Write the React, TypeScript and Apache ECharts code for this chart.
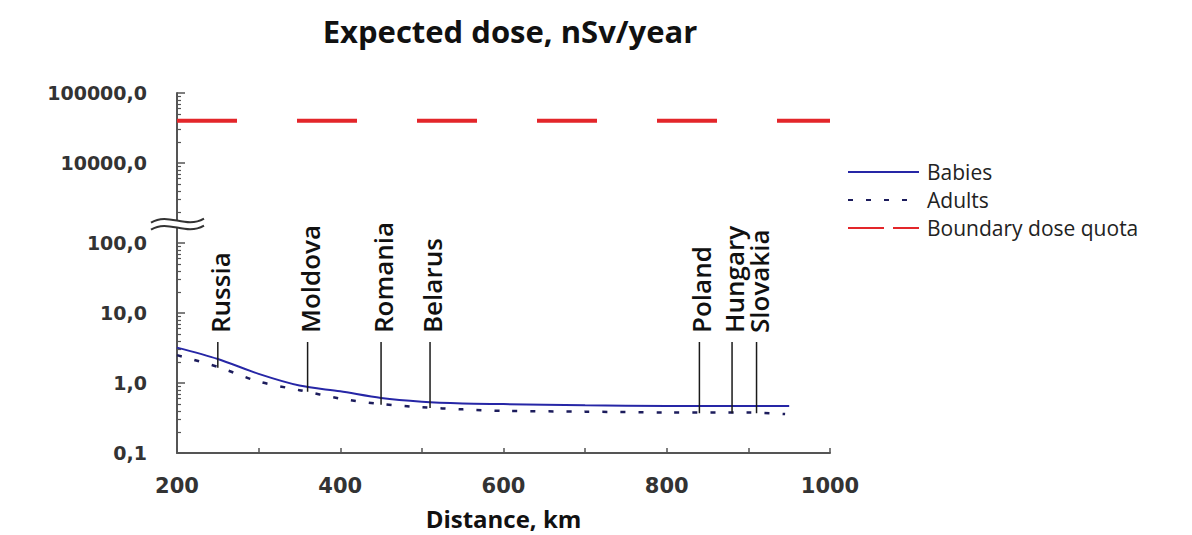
import React, { useEffect, useRef } from "react";
import * as echarts from "echarts";

// ---- data ----
const babyDistances = [200, 250, 300, 350, 400, 450, 500, 550, 600, 700, 800, 900, 950];
const babies = [3.2, 2.2, 1.35, 0.92, 0.76, 0.61, 0.54, 0.51, 0.5, 0.48, 0.47, 0.47, 0.47];
const adultDistances = [200, 250, 300, 350, 400, 450, 500, 550, 600, 700, 800, 900, 945];
const adults = [2.5, 1.7, 1.05, 0.79, 0.6, 0.5, 0.45, 0.42, 0.4, 0.39, 0.38, 0.38, 0.36];
const boundaryDistances = [200, 1000];
const boundary = [40000, 40000];
const countries = ["Russia", "Moldova", "Romania", "Belarus", "Poland", "Hungary", "Slovakia"];
const countryKm = [250, 360, 450, 510, 840, 880, 910];
const countryDose = [1.65, 0.75, 0.49, 0.44, 0.37, 0.37, 0.37];
const yTickValues = [0.1, 1, 10, 100, 10000, 100000];
const yTickLabels = ["0,1", "1,0", "10,0", "100,0", "10000,0", "100000,0"];
const xLabelValues = [200, 400, 600, 800, 1000];

// ---- broken log scale ----
const GAP = 8 / 7; // visual gap (in decades) between 100 and 10000
const SHIFT = 4 - (2 + GAP);
const toT = (v: number) => (v < 1000 ? Math.log10(v) : Math.log10(v) - SHIFT);
const BREAK_T = 2.27;
const LABEL_LINE_TOP = 3.85; // dose level where the country marker lines end

const minorValues: number[] = [];
for (const dec of [0.1, 1, 10, 1000, 10000]) {
  for (let k = 2; k <= 9; k++) minorValues.push(toT(dec * k));
}

export default function App() {
  const ref = useRef<HTMLDivElement>(null);
  useEffect(() => {
    if (!ref.current) return;
    const chart = echarts.init(ref.current, undefined, { renderer: "svg" });
    const majorT = yTickValues.map(toT);
    const labelFont = { fontFamily: "DejaVu Sans", fontWeight: "bold" as const, color: "#333" };
    chart.setOption({
      animation: false,
      backgroundColor: "#fff",
      title: {
        text: "Expected dose, nSv/year",
        left: 505,
        top: 10,
        textAlign: "center",
        textStyle: { fontFamily: "Open Sans", fontWeight: "bold", fontSize: 31, color: "#111" },
      },
      legend: {
        orient: "vertical",
        left: 842,
        top: 156,
        itemWidth: 71,
        itemHeight: 14,
        itemGap: 6,
        itemStyle: { opacity: 0 },
        data: [
          { name: "Babies", itemStyle: { opacity: 0 } },
          { name: "Adults", itemStyle: { opacity: 0 } },
          { name: "Boundary dose quota", itemStyle: { opacity: 0 }, lineStyle: { type: [36, 9] } },
        ],
        textStyle: { fontFamily: "Open Sans", fontSize: 21, color: "#222", lineHeight: 22, padding: [0, 0, 0, 3] },
      },
      grid: { left: 177, right: 362, top: 93, bottom: 82, containLabel: false, outerBoundsMode: "none" },
      xAxis: {
        type: "value",
        min: 200,
        max: 1000,
        interval: 100,
        axisLine: { onZero: false, lineStyle: { color: "#555", width: 2 } },
        axisTick: { inside: true, length: 5, lineStyle: { color: "#555", width: 1.5 } },
        axisLabel: {
          ...labelFont,
          fontSize: 21,
          margin: 22,
          showMinLabel: true,
          showMaxLabel: true,
          formatter: (v: number) => (xLabelValues.includes(v) ? String(v) : ""),
        },
        splitLine: { show: false },
        name: "Distance, km",
        nameLocation: "middle",
        nameGap: 53,
        nameTextStyle: { fontFamily: "Open Sans", fontWeight: "bold", fontSize: 24, color: "#111" },
      },
      yAxis: [
        {
          type: "value",
          position: "left",
          min: toT(0.1),
          max: toT(100000),
          axisLine: { show: true, onZero: false, lineStyle: { color: "#555", width: 2 } },
          axisTick: { show: true, inside: true, length: 8, customValues: majorT, lineStyle: { color: "#555", width: 1.5 } },
          axisLabel: {
            ...labelFont,
            fontSize: 19,
            margin: 30,
            customValues: majorT,
            formatter: (v: number) => {
              const i = majorT.findIndex((t) => Math.abs(t - v) < 1e-6);
              return i >= 0 ? yTickLabels[i] : "";
            },
          },
          splitLine: { show: false },
        },
        {
          type: "value",
          position: "left",
          offset: 0,
          min: toT(0.1),
          max: toT(100000),
          axisLine: { show: false, onZero: false },
          axisTick: { show: true, inside: true, length: 4, customValues: minorValues, lineStyle: { color: "#555", width: 1.2 } },
          axisLabel: { show: false },
          splitLine: { show: false },
        },
      ],
      series: [
        {
          name: "Babies",
          type: "line",
          symbol: "none",
          smooth: 0.3,
          data: babyDistances.map((d, i) => [d, toT(babies[i])]),
          lineStyle: { color: "#2626a6", width: 2 },
          itemStyle: { color: "#2626a6" },
          z: 3,
        },
        {
          name: "Adults",
          type: "line",
          symbol: "none",
          smooth: 0.3,
          data: adultDistances.map((d, i) => [d, toT(adults[i])]),
          lineStyle: { color: "#1c1c5c", width: 2.5, type: [5, 13] },
          itemStyle: { color: "#1c1c5c" },
          z: 3,
        },
        {
          name: "Boundary dose quota",
          type: "line",
          symbol: "none",
          data: boundaryDistances.map((d, i) => [d, toT(boundary[i])]),
          lineStyle: { color: "#e3262a", width: 4, type: [60, 60] },
          itemStyle: { color: "#e3262a" },
        },
        {
          name: "countries",
          type: "custom",
          silent: true,
          clip: false,
          z: 4,
          encode: { x: 0, y: 1 },
          data: countryKm.map((k, i) => [k, toT(countryDose[i]), i]),
          renderItem: (params: any, api: any) => {
            const bottom = api.coord([api.value(0), api.value(1)]);
            const top = api.coord([api.value(0), toT(LABEL_LINE_TOP)]);
            const name = countries[api.value(2)];
            return {
              type: "group",
              children: [
                {
                  type: "line",
                  shape: { x1: bottom[0], y1: top[1], x2: bottom[0], y2: bottom[1] },
                  style: { stroke: "#1a1a1a", lineWidth: 1.5 },
                },
                {
                  type: "text",
                  x: bottom[0] + 2,
                  y: top[1] - 9,
                  rotation: Math.PI / 2,
                  style: {
                    text: name,
                    align: "left",
                    verticalAlign: "middle",
                    textAlign: "left",
                    textVerticalAlign: "middle",
                    fontFamily: "Open Sans",
                    fontWeight: 600,
                    fontSize: 26,
                    fill: "#111",
                  },
                },
              ],
            };
          },
        },
      ],
    });

    // axis-break mark, placed through the axis scales
    const ax = chart.convertToPixel({ xAxisIndex: 0 }, 200) as number;
    const by = chart.convertToPixel({ yAxisIndex: 0 }, BREAK_T) as number;
    const wave = (y: number) => ({
      type: "bezierCurve",
      shape: { x1: ax - 26, y1: y + 2, cpx1: ax - 8, cpy1: y - 9, cpx2: ax + 8, cpy2: y + 9, x2: ax + 27, y2: y - 2 },
      style: { stroke: "#333", lineWidth: 2, fill: null },
      z: 10,
    });
    chart.setOption({
      graphic: [
        { type: "rect", shape: { x: ax - 3, y: by - 3.5, width: 6, height: 7 }, style: { fill: "#fff" }, z: 9 },
        wave(by - 3.5),
        wave(by + 3.5),
      ],
    });

    return () => chart.dispose();
  }, []);
  return <div ref={ref} style={{ position: "fixed", left: 0, top: 0, width: 1192, height: 535 }} />;
}
